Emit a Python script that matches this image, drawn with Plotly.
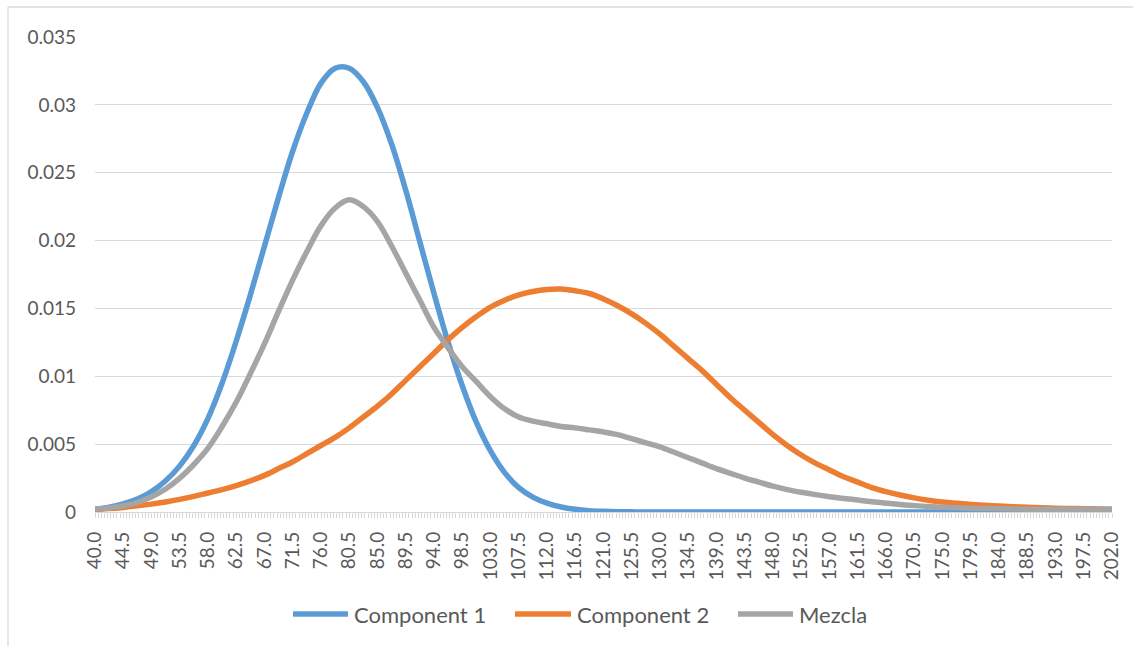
import plotly.graph_objects as go

# Density curves sampled every 2.25 units across the category range
x_vals = [40.0, 42.25, 44.5, 46.75, 49.0, 51.25, 53.5, 55.75, 58.0, 60.25, 62.5,
          64.75, 67.0, 69.25, 71.5, 73.75, 76.0, 78.25, 80.5, 82.75, 85.0, 87.25,
          89.5, 91.75, 94.0, 96.25, 98.5, 100.75, 103.0, 105.25, 107.5, 109.75,
          112.0, 114.25, 116.5, 118.75, 121.0, 123.25, 125.5, 127.75, 130.0,
          132.25, 134.5, 136.75, 139.0, 141.25, 143.5, 145.75, 148.0, 150.25,
          152.5, 154.75, 157.0, 159.25, 161.5, 163.75, 166.0, 168.25, 170.5,
          172.75, 175.0, 177.25, 179.5, 181.75, 184.0, 186.25, 188.5, 190.75,
          193.0, 195.25, 197.5, 199.75, 202.0]

component_1 = [0.0002, 0.00035, 0.0006, 0.00095, 0.0015, 0.0023, 0.0034, 0.0049,
               0.0069, 0.0095, 0.0126, 0.0160, 0.0196, 0.0232, 0.0266, 0.0294,
               0.0316, 0.0327, 0.0327, 0.0317, 0.0298, 0.0271, 0.0237, 0.0199,
               0.0161, 0.0125, 0.0093, 0.0066, 0.0045, 0.0029, 0.0018, 0.0011,
               0.00065, 0.00037, 0.0002, 0.0001, 0.00005, 0.00002, 0.00001,
               0.0, 0.0, 0.0, 0.0, 0.0, 0.0, 0.0, 0.0, 0.0, 0.0, 0.0,
               0.0, 0.0, 0.0, 0.0, 0.0, 0.0, 0.0, 0.0, 0.0, 0.0, 0.0, 0.0, 0.0,
               0.0, 0.0, 0.0, 0.0, 0.0, 0.0, 0.0, 0.0, 0.0, 0.0]

component_2 = [0.00018, 0.00025, 0.00034, 0.00045, 0.00058, 0.00074, 0.00093,
               0.00115, 0.0014, 0.00165, 0.00195, 0.0023, 0.0027, 0.0032, 0.0037,
               0.0043, 0.0049, 0.0055, 0.0062, 0.0070, 0.0078, 0.0087, 0.0097,
               0.0107, 0.0117, 0.0127, 0.0136, 0.0144, 0.0151, 0.0156, 0.0160,
               0.01625, 0.0164, 0.01643, 0.0163, 0.0161, 0.0157, 0.0152, 0.0146,
               0.0139, 0.0131, 0.0122, 0.0113, 0.0104, 0.0094, 0.0084, 0.0075,
               0.0066, 0.0057, 0.0049, 0.0042, 0.0036, 0.0031, 0.0026, 0.0022,
               0.0018, 0.0015, 0.00125, 0.00104, 0.00087, 0.00074, 0.00064, 0.00056,
               0.0005, 0.00044, 0.00039, 0.00035, 0.00031, 0.00028, 0.00026,
               0.00024, 0.00022, 0.00021]

mezcla = [0.00022, 0.0003, 0.00046, 0.0007, 0.00112, 0.0017, 0.0025, 0.0035,
          0.0047, 0.0063, 0.0081, 0.0102, 0.0124, 0.0148, 0.0171, 0.0192, 0.0211,
          0.0224, 0.0230, 0.0225, 0.0214, 0.0196, 0.0176, 0.0156, 0.0136, 0.0121,
          0.0107, 0.0096, 0.0085, 0.0076, 0.0070, 0.0067, 0.0065, 0.0063, 0.0062,
          0.00605, 0.0059, 0.0057, 0.0054, 0.0051, 0.0048, 0.0044, 0.0040, 0.0036,
          0.0032, 0.00285, 0.0025, 0.0022, 0.0019, 0.00165, 0.00145, 0.00128,
          0.00113, 0.001, 0.00088, 0.00076, 0.00065, 0.00055, 0.00047, 0.0004,
          0.00035, 0.00031, 0.00028, 0.00026, 0.00024, 0.00022, 0.00021, 0.0002,
          0.0002, 0.0002, 0.0002, 0.0002, 0.0002]

# category labels shown on the axis (every 4.5 units)
x_tick_vals = x_vals[::2]
x_tick_text = [f"{v:.1f}" for v in x_tick_vals]

series_names = ["Component 1", "Component 2", "Mezcla"]
series_colors = ["#5B9BD5", "#ED7D31", "#A5A5A5"]
y_ticks = [0, 0.005, 0.01, 0.015, 0.02, 0.025, 0.03, 0.035]
y_tick_text = ["0", "0.005", "0.01", "0.015", "0.02", "0.025", "0.03", "0.035"]

FONT = "Lato"
TEXT = "#595959"
GRID = "#D9D9D9"

W, H = 1133, 646
L, R, T, B = 95, 21, 37, 134
PW = W - L - R
PH = H - T - B


def px_x(p):
    return (p - L) / PW


def px_y(p):
    return (H - B - p) / PH


fig = go.Figure()
for name, ys, col in zip(series_names, [component_1, component_2, mezcla], series_colors):
    fig.add_trace(go.Scatter(
        x=x_vals, y=ys, name=name, mode="lines",
        line=dict(color=col, width=5.5, shape="spline", smoothing=1.0),
        showlegend=False, cliponaxis=False,
    ))

# legend drawn as long line swatches followed by labels
legend_items = [(293, 348, 352), (515, 571, 575), (738, 793, 797)]
legend_y = 614
shapes = []
annotations = []
for (x0, x1, tx), name, col in zip(legend_items, series_names, series_colors):
    shapes.append(dict(type="line", xref="paper", yref="paper",
                       x0=px_x(x0), x1=px_x(x1), y0=px_y(legend_y), y1=px_y(legend_y),
                       line=dict(color=col, width=5.5)))
    annotations.append(dict(xref="paper", yref="paper", x=px_x(tx), y=px_y(legend_y),
                            text=name, showarrow=False, xanchor="left", yanchor="middle",
                            font=dict(family=FONT, size=22, color=TEXT)))

# chart frame (left and top edges)
shapes.append(dict(type="line", xref="paper", yref="paper",
                   x0=px_x(8), x1=px_x(8), y0=px_y(7), y1=px_y(660),
                   line=dict(color=GRID, width=1.3)))
shapes.append(dict(type="line", xref="paper", yref="paper",
                   x0=px_x(8), x1=px_x(1150), y0=px_y(7), y1=px_y(7),
                   line=dict(color=GRID, width=1.3)))

fig.update_layout(
    width=W, height=H,
    margin=dict(l=L, r=R, t=T, b=B),
    paper_bgcolor="white", plot_bgcolor="white",
    font=dict(family=FONT, color=TEXT, size=19),
    shapes=shapes, annotations=annotations,
    showlegend=False,
)
fig.update_xaxes(
    type="linear", range=[40, 202],
    tickmode="array", tickvals=x_tick_vals, ticktext=x_tick_text,
    tickangle=-90, tickfont=dict(family=FONT, size=19, color=TEXT),
    showgrid=False, zeroline=False,
    showline=True, linecolor=GRID, linewidth=1.3,
    ticks="outside", ticklen=5, tickcolor=GRID, tickwidth=1,
    minor=dict(dtick=0.5, tick0=40, ticks="outside", ticklen=5, tickcolor=GRID, tickwidth=1),
    ticklabelstandoff=6,
)
fig.update_yaxes(
    range=[0, 0.035],
    tickmode="array", tickvals=y_ticks, ticktext=y_tick_text,
    tickfont=dict(family=FONT, size=19, color=TEXT),
    showgrid=True, gridcolor=GRID, gridwidth=1.3,
    zeroline=False, showline=False, ticks="",
    ticklabelstandoff=18,
)

fig.write_html("out.html")
